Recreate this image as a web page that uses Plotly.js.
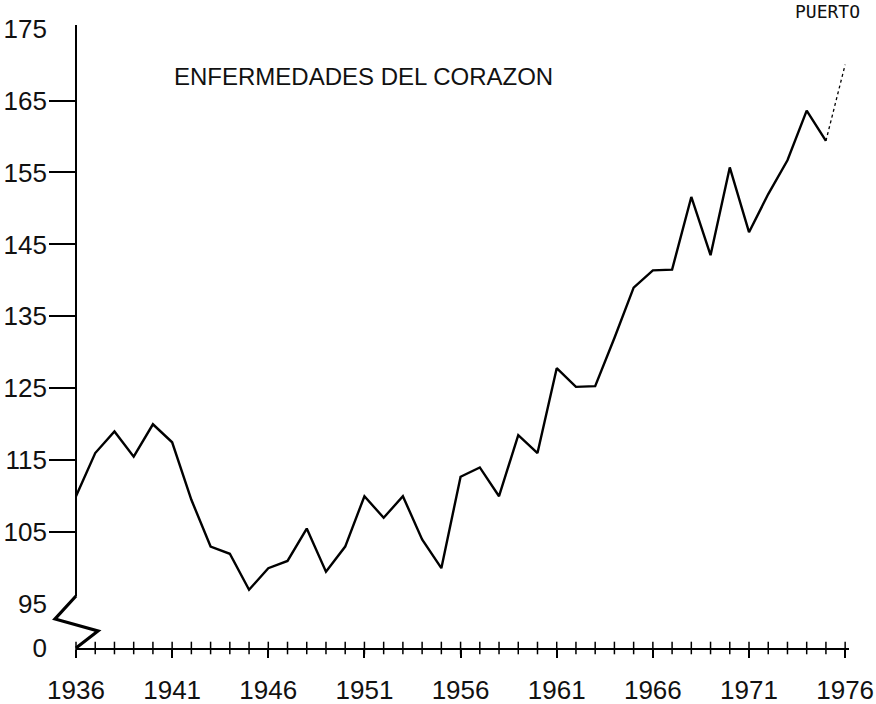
<!DOCTYPE html>
<html>
<head>
<meta charset="utf-8">
<script src="https://cdn.plot.ly/plotly-3.0.1.min.js"></script>
<style>html,body{margin:0;padding:0;background:#fff;}</style>
</head>
<body>
<div id="chart" style="width:876px;height:704px;"></div>
<script>
// Data
const years = [1936,1937,1938,1939,1940,1941,1942,1943,1944,1945,
               1946,1947,1948,1949,1950,1951,1952,1953,1954,1955,
               1956,1957,1958,1959,1960,1961,1962,1963,1964,1965,
               1966,1967,1968,1969,1970,1971,1972,1973,1974,1975];
const rates = [110,116,119,115.5,120,117.5,109.5,103,102,97,
               100,101,105.5,99.5,103,110,107,110,104,100,
               112.7,114,110,118.5,116,127.8,125.2,125.3,132,139,
               141.4,141.5,151.6,143.5,155.7,146.7,152,156.7,163.6,159.4];
// last (faint, dotted) segment
const lastYears = [1975,1976];
const lastRates = [159.4,170];

const yTickVals = [88.9,95,105,115,125,135,145,155,165,175];
const yTickText = ['0','95','105','115','125','135','145','155','165','175'];
const yDashVals = [105,115,125,135,145,155,165];
const xTickVals = [1936,1941,1946,1951,1956,1961,1966,1971,1976];
const xTickText = ['1936','1941','1946','1951','1956','1961','1966','1971','1976'];
const xYearTicks = years.concat([1976]);

const chartTitle = 'ENFERMEDADES DEL CORAZON';
const cornerText = 'PUERTO';

const tickFont = {family:'Liberation Sans, Arial, sans-serif', size:26, color:'#111'};
const xRange = [1936,1976.2];
const yRange = [88.9,175.5];

const traces = [
  {x:years, y:rates, type:'scatter', mode:'lines',
   line:{color:'#000', width:2.4}, cliponaxis:false, hoverinfo:'x+y'},
  {x:lastYears, y:lastRates, type:'scatter', mode:'lines',
   line:{color:'#000', width:1.3, dash:'dot'}, cliponaxis:false, hoverinfo:'x+y'},
  // small yearly tick marks on the x axis
  {x:xYearTicks, y:xYearTicks.map(() => yRange[0]), type:'scatter', mode:'markers',
   marker:{symbol:'line-ns-open', size:9, color:'#000', line:{color:'#000', width:1.5}},
   cliponaxis:false, hoverinfo:'skip'}
];

const layout = {
  width:876, height:704,
  margin:{l:76, r:27, t:25, b:56},
  paper_bgcolor:'#fff', plot_bgcolor:'#fff',
  showlegend:false,
  xaxis:{
    range:xRange, showgrid:false, zeroline:false,
    showline:true, linecolor:'#000', linewidth:2,
    tickmode:'array', tickvals:xTickVals, ticktext:xTickText,
    ticks:'outside', ticklen:8, tickwidth:1.5, tickcolor:'#000',
    ticklabelstandoff:10,
    tickfont:tickFont
  },
  yaxis:{
    range:yRange, showgrid:false, zeroline:false,
    showline:false,
    tickmode:'array', tickvals:yTickVals, ticktext:yTickText,
    ticks:'', ticklabelstandoff:28,
    tickfont:tickFont,
    minor:{tickmode:'array', tickvals:yDashVals, ticks:'outside', ticklen:26,
           tickwidth:2, tickcolor:'#000', showgrid:false}
  },
  shapes:[
    // y axis line above the break
    {type:'line', xref:'paper', yref:'paper', x0:0, x1:0, y0:0.083, y1:1,
     line:{color:'#000', width:2}},
    // zigzag axis break
    {type:'path', xref:'paper', yref:'paper', xsizemode:'pixel', ysizemode:'pixel',
     xanchor:0, yanchor:0,
     path:'M0,52 L-21,29 L22,17 L0,0',
     line:{color:'#000', width:3.2}}
  ],
  annotations:[
    {text:chartTitle, xref:'paper', yref:'paper', x:0.124, y:0.9166,
     xanchor:'left', yanchor:'middle', showarrow:false,
     font:{family:'Liberation Sans, Arial, sans-serif', size:24, color:'#111'}},
    {text:cornerText, xref:'paper', yref:'paper', x:0.927, y:1.021,
     xanchor:'left', yanchor:'middle', showarrow:false,
     font:{family:'DejaVu Sans Mono, monospace', size:18, color:'#111'}}
  ]
};

Plotly.newPlot('chart', traces, layout, {displayModeBar:false});
</script>
</body>
</html>
